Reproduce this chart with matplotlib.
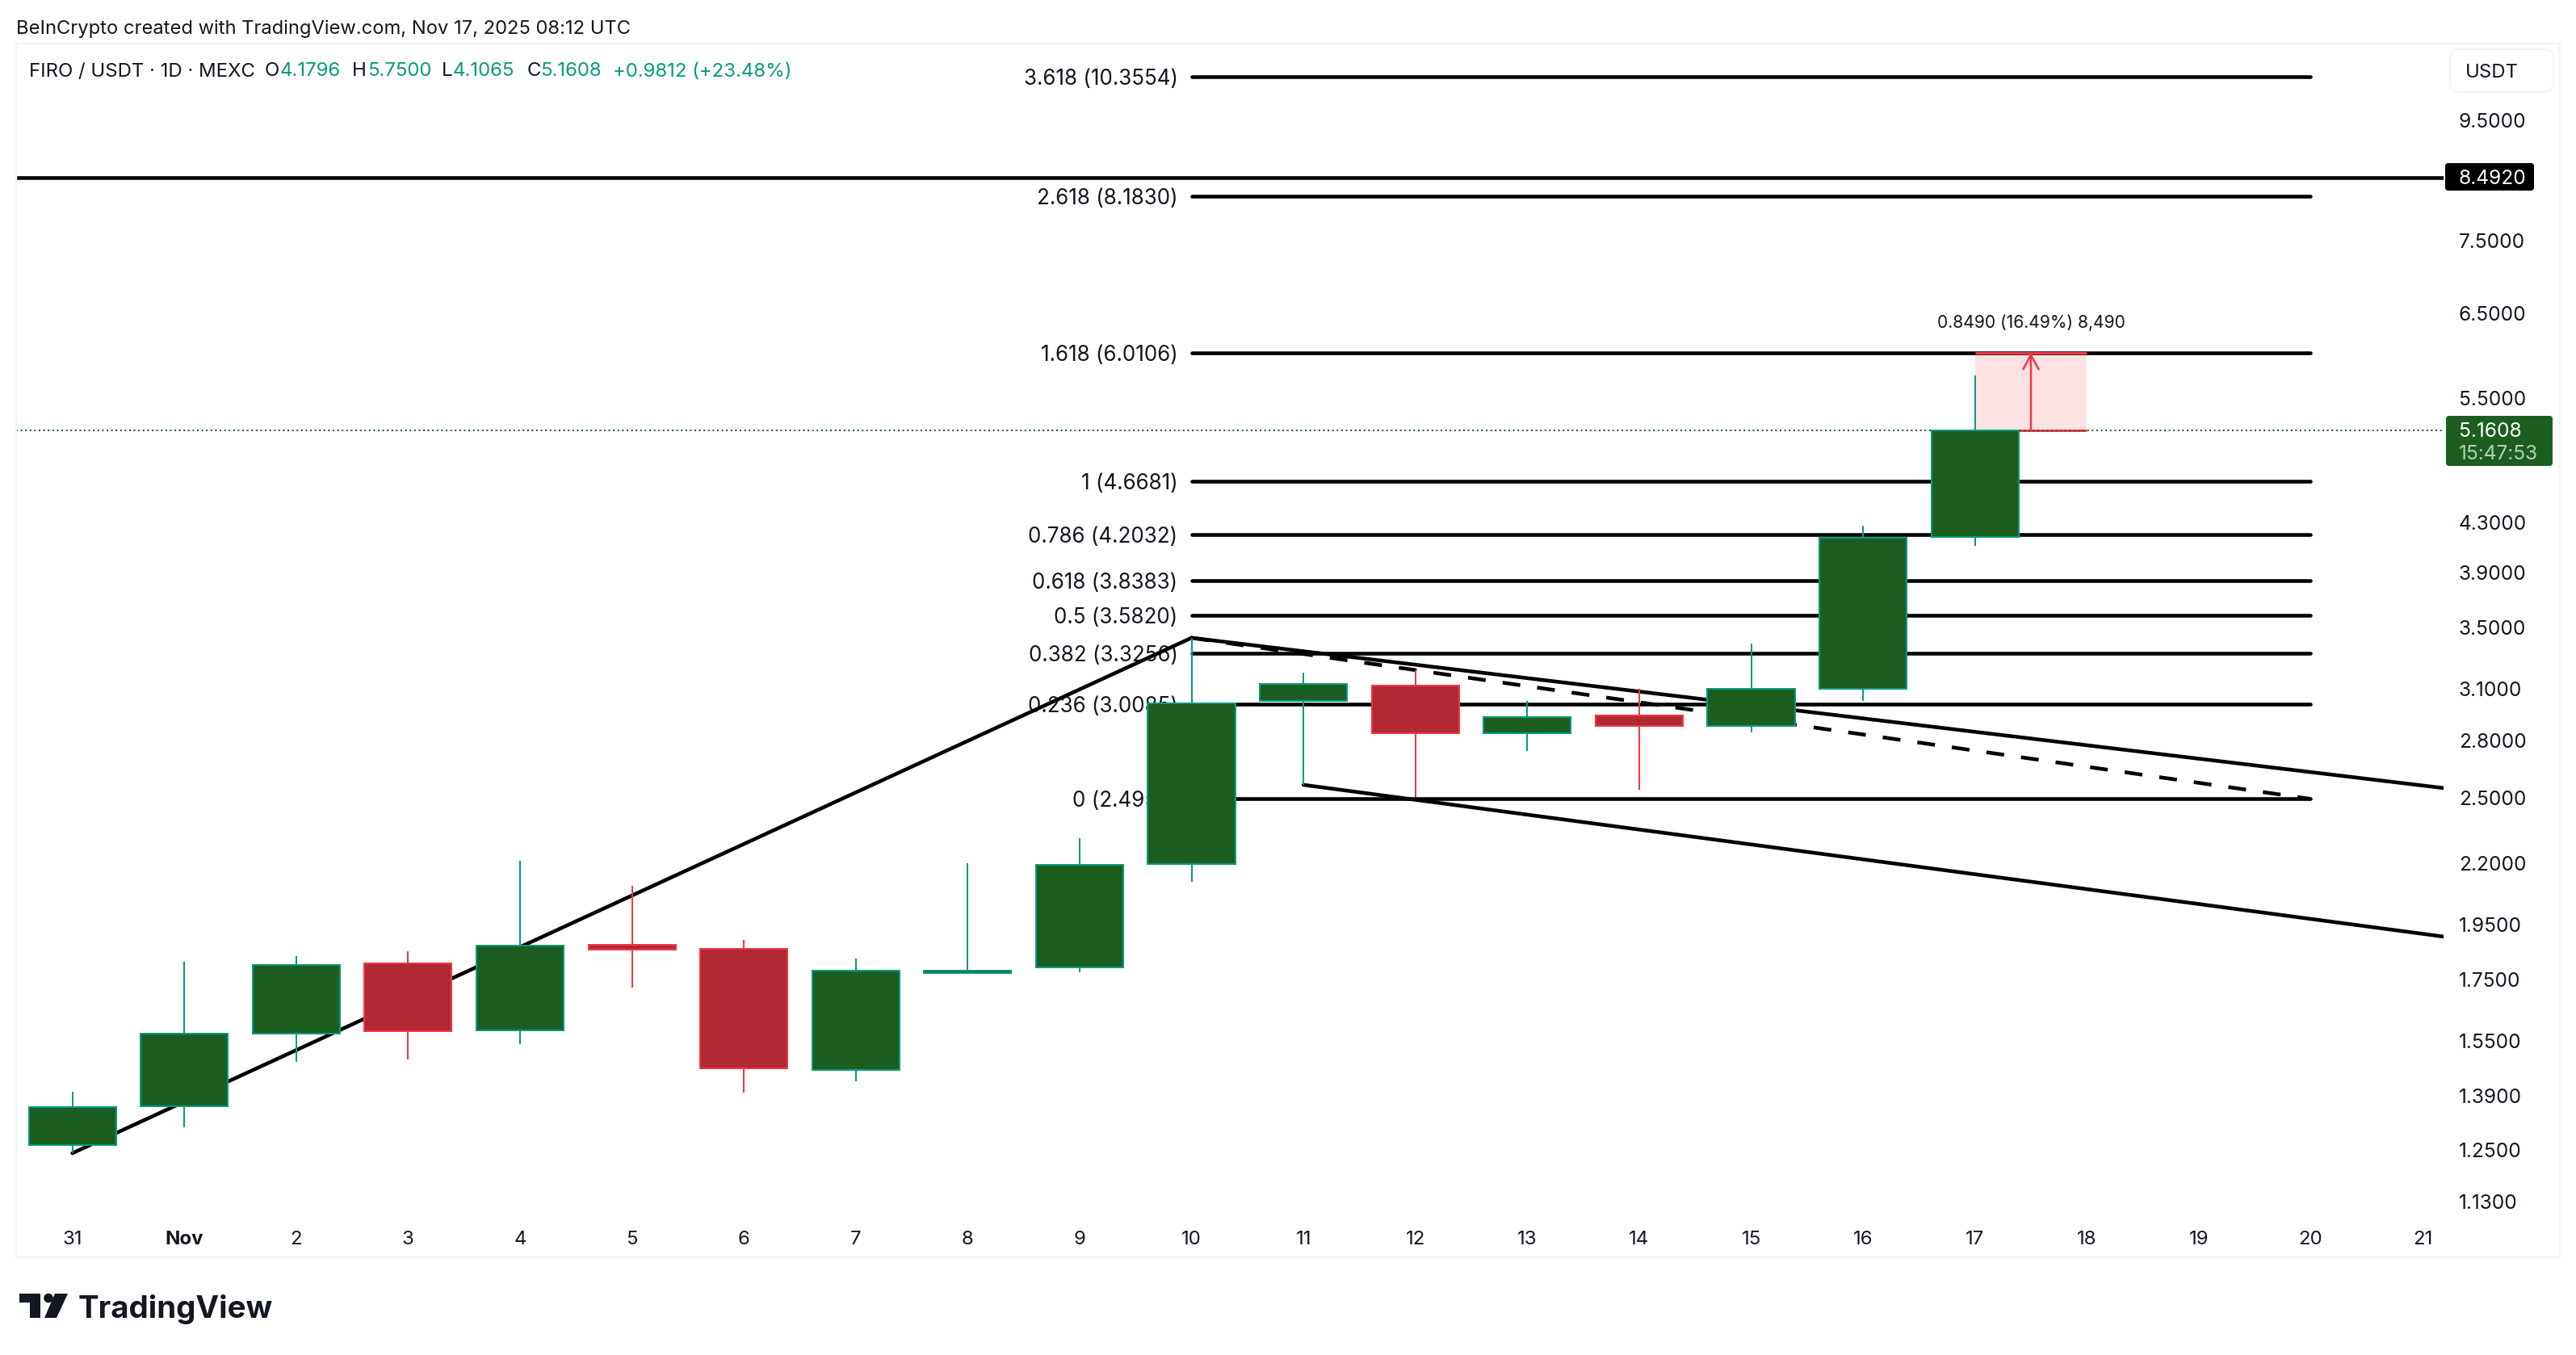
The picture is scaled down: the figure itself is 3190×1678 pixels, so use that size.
import matplotlib
matplotlib.use('Agg')
import matplotlib.pyplot as plt
from matplotlib.patches import Circle, FancyBboxPatch, Polygon, Rectangle

plt.rcParams['font.family'] = ['Inter', 'DejaVu Sans']

# candles, 31 Oct to 17 Nov
day_labels = ['31', 'Nov', '2', '3', '4', '5', '6', '7', '8', '9', '10',
              '11', '12', '13', '14', '15', '16', '17', '18', '19', '20', '21']
opens = [1.262, 1.362, 1.572, 1.805, 1.582, 1.873, 1.858, 1.464, 1.771, 1.791, 2.196,
         3.028, 3.121, 2.841, 2.942, 2.882, 3.101, 4.1796]
highs = [1.402, 1.811, 1.832, 1.849, 2.210, 2.103, 1.891, 1.823, 2.199, 2.310, 3.428,
         3.201, 3.217, 3.028, 3.101, 3.390, 4.276, 5.7500]
lows = [1.242, 1.307, 1.487, 1.495, 1.540, 1.721, 1.400, 1.431, 1.769, 1.774, 2.120,
        2.566, 2.505, 2.743, 2.542, 2.846, 3.028, 4.1065]
closes = [1.360, 1.572, 1.800, 1.580, 1.871, 1.855, 1.468, 1.780, 1.780, 2.193, 3.013,
          3.131, 2.841, 2.933, 2.882, 3.101, 4.172, 5.1608]

# fib levels
fib_ratios = ['3.618', '2.618', '1.618', '1', '0.786', '0.618', '0.5', '0.382', '0.236', '0']
fib_prices = [10.3554, 8.1830, 6.0106, 4.6681, 4.2032, 3.8383, 3.5820, 3.3256, 3.0085, 2.4958]
fib_start = 10
fib_end = 20

# trend lines
swing_x = [0, 10]
swing_y = [1.242, 3.428]
upper_x = [10, 21.187]
upper_y = [3.428, 2.550]
lower_x = [11, 21.187]
lower_y = [2.566, 1.903]
dashed_x = [10, 20]
dashed_y = [3.428, 2.4958]

resistance = 8.4920
last_price = 5.1608
target_price = 6.0098

price_ticks = [9.5, 7.5, 6.5, 5.5, 4.3, 3.9, 3.5, 3.1, 2.8, 2.5, 2.2, 1.95, 1.75, 1.55, 1.39, 1.25, 1.13]

GREEN = '#089981'
GREEN_BODY = '#1B5E20'
RED = '#F23645'
RED_BODY = '#B22833'
INK = '#131722'
FRAME = '#F0F3FA'
W, H = 3190, 1678


def px(n):
    return n * 0.72


fig = plt.figure(figsize=(W / 100, H / 100), dpi=100, facecolor='white')
ax = fig.add_axes([20 / W, 1 - 1505 / H, (3026 - 20) / W, (1505 - 53) / H])
ax.set_yscale('log')
ax.set_xlim(-0.502, 21.187)
ax.set_ylim(1.099, 11.07)
for s in ax.spines.values():
    s.set_visible(False)

ax.yaxis.tick_right()
ax.set_yticks(price_ticks)
ax.set_yticklabels(['%.4f' % p for p in price_ticks])
ax.minorticks_off()
ax.tick_params(axis='y', length=0, pad=px(19), labelsize=px(24.5), labelcolor=INK)
ax.set_xticks(range(len(day_labels)))
ax.set_xticklabels(day_labels)
ax.tick_params(axis='x', length=0, pad=px(19), labelsize=px(24), labelcolor=INK)
ax.get_xticklabels()[1].set_fontweight('bold')

# fib levels and their labels
ax.hlines(fib_prices, fib_start, fib_end, color='black', lw=px(4.6), capstyle='round', zorder=2)
for ratio, price in zip(fib_ratios, fib_prices):
    ax.annotate('%s (%.4f)' % (ratio, price), (fib_start, price), xytext=(px(-17), 0),
                textcoords='offset points', ha='right', va='center_baseline',
                fontsize=px(26), color=INK, zorder=1)

ax.plot(swing_x, swing_y, color='black', lw=px(4.6), solid_capstyle='round', zorder=2)
ax.plot(upper_x, upper_y, color='black', lw=px(4.6), solid_capstyle='round', zorder=2)
ax.plot(lower_x, lower_y, color='black', lw=px(4.6), solid_capstyle='round', zorder=2)
ax.plot(dashed_x, dashed_y, color='black', lw=px(4.6), linestyle=(0, (4.8, 4.6)), zorder=2)
ax.axhline(resistance, color='black', lw=px(4.6), zorder=2)
ax.axhline(last_price, color=GREEN_BODY, lw=px(2), linestyle=(0, (1, 1.8)), zorder=2.5, snap=True)

# measure box
ax.fill_between([17, 18], last_price, target_price, color=RED, alpha=0.14, lw=0, zorder=2.2)
ax.hlines([last_price, target_price], 17, 18, color=RED, lw=px(3), zorder=2.3)
ax.annotate('', xy=(17.5, target_price), xytext=(17.5, last_price),
            arrowprops=dict(arrowstyle='->,head_length=0.55,head_width=0.3', color=RED,
                            lw=px(2.5), shrinkA=0, shrinkB=0, mutation_scale=px(32)), zorder=2.4)
ax.annotate('0.8490 (16.49%) 8,490', (17.5, target_price), xytext=(0, px(39)),
            textcoords='offset points', ha='center', va='center_baseline',
            fontsize=px(21), color=INK)

# candles
x_vals = list(range(len(opens)))
up = [c >= o for o, c in zip(opens, closes)]
wick_cols = [GREEN if u else RED for u in up]
wicks = ax.vlines(x_vals, lows, highs, colors=wick_cols, lw=px(2), zorder=3)
wicks.set_snap(True)
for body_col, edge_col, is_up in [(GREEN_BODY, GREEN, True), (RED_BODY, RED, False)]:
    xs = [x for x, u in zip(x_vals, up) if u == is_up]
    bot = [min(opens[x], closes[x]) for x in xs]
    top = [max(opens[x], closes[x]) for x in xs]
    ax.bar(xs, [t - b for t, b in zip(top, bot)], bottom=bot, width=0.78,
           color=body_col, edgecolor=edge_col, linewidth=px(2), zorder=3.2)

# chrome drawn in pixel coordinates
ov = fig.add_axes([0, 0, 1, 1], zorder=5)
ov.set_xlim(0, W)
ov.set_ylim(H, 0)
ov.axis('off')
ov.patch.set_alpha(0)

ov.add_patch(Rectangle((20, 54), 3150, 1503, fill=False, ec=FRAME, lw=px(2.5)))
ov.text(20, 33, 'BeInCrypto created with TradingView.com, Nov 17, 2025 08:12 UTC',
        fontsize=px(23.7), color=INK, va='center_baseline')

# legend row
legend_parts = [(36, 'FIRO / USDT · 1D · MEXC', INK), (328, 'O', INK), (347, '4.1796', GREEN),
                (436, 'H', INK), (455, '5.7500', GREEN), (547, 'L', INK), (561, '4.1065', GREEN),
                (653, 'C', INK), (669, '5.1608', GREEN), (759, '+0.9812 (+23.48%)', GREEN)]
for x, s, col in legend_parts:
    ov.text(x, 86, s, fontsize=px(24), color=col, va='center_baseline')

# currency button
ov.add_patch(FancyBboxPatch((3042, 69), 112, 37, boxstyle='round,pad=8,rounding_size=12',
                            fc='white', ec=FRAME, lw=px(2)))
ov.text(3053, 88, 'USDT', fontsize=px(24), color=INK, va='center_baseline')

# price tags
ov.add_patch(FancyBboxPatch((3028, 202), 110, 34, boxstyle='round,pad=0,rounding_size=4',
                            fc='black', ec='none'))
ov.text(3045, 219, '%.4f' % resistance, fontsize=px(24.5), color='white', va='center_baseline')
ov.add_patch(FancyBboxPatch((3029, 515), 132, 62, boxstyle='round,pad=0,rounding_size=4',
                            fc=GREEN_BODY, ec='none'))
ov.text(3045, 532, '%.4f' % last_price, fontsize=px(24.5), color='white', va='center_baseline')
ov.text(3045, 560, '15:47:53', fontsize=px(24.5), color='#B9CDB9', va='center_baseline')

# logo
ov.add_patch(Polygon([(24, 1602), (50, 1602), (50, 1632), (37, 1632), (37, 1613), (24, 1613)],
                     fc=INK, ec='none'))
ov.add_patch(Circle((60, 1607.5), 5.8, fc=INK, ec='none'))
ov.add_patch(Polygon([(68, 1602), (84, 1602), (70, 1632), (55, 1632)], fc=INK, ec='none'))
ov.text(97, 1632, 'TradingView', fontsize=px(38.5), color=INK, fontweight='bold', va='baseline')

fig.savefig('out.png', dpi=100)
